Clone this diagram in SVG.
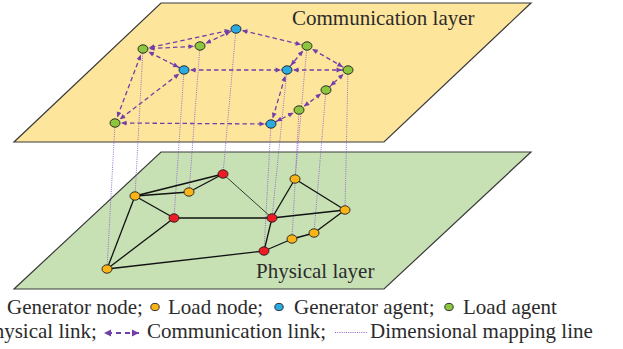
<svg xmlns="http://www.w3.org/2000/svg" width="623" height="349" viewBox="0 0 623 349">
<style>
.plane{stroke:#3a3a3a;stroke-width:1.2}
.lbl{font-size:21px;fill:#2b2b2b}
.node{stroke:#1e1e1e;stroke-width:0.9}
.blue{fill:#29ABE2}.green{fill:#8CC63F}.red{fill:#ED1C24}.orange{fill:#FBB417}
.comm{stroke:#7040A8;stroke-width:1.3;stroke-dasharray:4.5 3;fill:none;marker-start:url(#ah);marker-end:url(#ah)}
.phys{stroke:#111;stroke-width:1.3;fill:none}
.map{stroke:#9060C8;stroke-width:0.9;stroke-dasharray:1 1.2;fill:none}
</style>
<defs>
<marker id="ah" markerUnits="userSpaceOnUse" markerWidth="12" markerHeight="6" refX="16" refY="3" orient="auto-start-reverse" overflow="visible">
<path d="M10,3 L4.5,0.6 L4.5,5.4 Z" fill="#7040A8"/>
</marker>
<marker id="ahl" markerUnits="userSpaceOnUse" markerWidth="8" markerHeight="8" refX="7" refY="3.5" orient="auto-start-reverse" overflow="visible">
<path d="M7,3.5 L0,0 L0,7 Z" fill="#7040A8"/>
</marker>
</defs>

<g id="comm-plane">
<path class="plane" d="M161,3 L531,3 L384,142 L14,142 Z" fill="#FEE59C"/>
<text class="lbl" font-family="Liberation Serif, Times New Roman, serif" x="292" y="25">Communication layer</text>
</g>
<g id="phys-plane">
<path class="plane" d="M161,152 L531,152 L384,289 L14,289 Z" fill="#C7E1B5"/>
<text class="lbl" font-family="Liberation Serif, Times New Roman, serif" x="256" y="278">Physical layer</text>
</g>

<g id="connectors">
<g id="mapping">
<line class="map" x1="115" y1="123" x2="107" y2="269"/>
<line class="map" x1="143" y1="49" x2="135" y2="196"/>
<line class="map" x1="184" y1="70" x2="174" y2="218"/>
<line class="map" x1="200" y1="46" x2="189" y2="192"/>
<line class="map" x1="236" y1="29" x2="223" y2="174"/>
<line class="map" x1="271" y1="124" x2="264" y2="251"/>
<line class="map" x1="287" y1="70" x2="272" y2="218"/>
<line class="map" x1="307" y1="46" x2="295" y2="179"/>
<line class="map" x1="299" y1="110" x2="292" y2="239"/>
<line class="map" x1="326" y1="90" x2="314" y2="233"/>
<line class="map" x1="348" y1="70" x2="345" y2="210"/>
</g>
<g id="physical-links">
<line class="phys" x1="135" y1="196" x2="223" y2="174"/>
<line class="phys" x1="135" y1="196" x2="189" y2="192"/>
<line class="phys" x1="189" y1="192" x2="223" y2="174"/>
<line class="phys" x1="223" y1="174" x2="272" y2="218" style="stroke-width:0.8"/>
<line class="phys" x1="135" y1="196" x2="174" y2="218"/>
<line class="phys" x1="135" y1="196" x2="107" y2="269"/>
<line class="phys" x1="174" y1="218" x2="272" y2="218"/>
<line class="phys" x1="174" y1="218" x2="107" y2="269"/>
<line class="phys" x1="107" y1="269" x2="264" y2="251"/>
<line class="phys" x1="272" y1="218" x2="295" y2="179"/>
<line class="phys" x1="295" y1="179" x2="345" y2="210"/>
<line class="phys" x1="272" y1="218" x2="345" y2="210"/>
<line class="phys" x1="272" y1="218" x2="264" y2="251"/>
<line class="phys" x1="264" y1="251" x2="292" y2="239"/>
<line class="phys" x1="292" y1="239" x2="314" y2="233"/>
<line class="phys" x1="314" y1="233" x2="345" y2="210"/>
</g>
<g id="communication-links">
<line class="comm" x1="236" y1="29" x2="143" y2="49"/>
<line class="comm" x1="143" y1="49" x2="200" y2="46"/>
<line class="comm" x1="200" y1="46" x2="236" y2="29"/>
<line class="comm" x1="236" y1="29" x2="307" y2="46"/>
<line class="comm" x1="143" y1="49" x2="184" y2="70"/>
<line class="comm" x1="143" y1="49" x2="115" y2="123"/>
<line class="comm" x1="184" y1="70" x2="115" y2="123"/>
<line class="comm" x1="184" y1="70" x2="287" y2="70"/>
<line class="comm" x1="287" y1="70" x2="348" y2="70"/>
<line class="comm" x1="307" y1="46" x2="287" y2="70"/>
<line class="comm" x1="307" y1="46" x2="348" y2="70"/>
<line class="comm" x1="348" y1="70" x2="326" y2="90"/>
<line class="comm" x1="326" y1="90" x2="299" y2="110"/>
<line class="comm" x1="299" y1="110" x2="271" y2="124"/>
<line class="comm" x1="287" y1="70" x2="271" y2="124"/>
<line class="comm" x1="115" y1="123" x2="271" y2="124"/>
</g>
</g>

<g id="agent-T1"><ellipse class="node blue" cx="236" cy="29" rx="5" ry="4.2"/></g>
<g id="agent-T2"><ellipse class="node green" cx="143" cy="49" rx="5" ry="4.2"/></g>
<g id="agent-T3"><ellipse class="node green" cx="200" cy="46" rx="5" ry="4.2"/></g>
<g id="agent-T4"><ellipse class="node green" cx="307" cy="46" rx="5" ry="4.2"/></g>
<g id="agent-T5"><ellipse class="node blue" cx="184" cy="70" rx="5" ry="4.2"/></g>
<g id="agent-T6"><ellipse class="node blue" cx="287" cy="70" rx="5" ry="4.2"/></g>
<g id="agent-T7"><ellipse class="node green" cx="348" cy="70" rx="5" ry="4.2"/></g>
<g id="agent-T8"><ellipse class="node green" cx="326" cy="90" rx="5" ry="4.2"/></g>
<g id="agent-T9"><ellipse class="node green" cx="299" cy="110" rx="5" ry="4.2"/></g>
<g id="agent-T10"><ellipse class="node green" cx="115" cy="123" rx="5" ry="4.2"/></g>
<g id="agent-T11"><ellipse class="node blue" cx="271" cy="124" rx="5" ry="4.2"/></g>

<g id="bus-P1"><ellipse class="node red" cx="223" cy="174" rx="5" ry="4.2"/></g>
<g id="bus-P2"><ellipse class="node orange" cx="135" cy="196" rx="5" ry="4.2"/></g>
<g id="bus-P3"><ellipse class="node orange" cx="189" cy="192" rx="5" ry="4.2"/></g>
<g id="bus-P4"><ellipse class="node orange" cx="295" cy="179" rx="5" ry="4.2"/></g>
<g id="bus-P5"><ellipse class="node red" cx="174" cy="218" rx="5" ry="4.2"/></g>
<g id="bus-P6"><ellipse class="node red" cx="272" cy="218" rx="5" ry="4.2"/></g>
<g id="bus-P7"><ellipse class="node orange" cx="345" cy="210" rx="5" ry="4.2"/></g>
<g id="bus-P8"><ellipse class="node orange" cx="314" cy="233" rx="5" ry="4.2"/></g>
<g id="bus-P9"><ellipse class="node orange" cx="292" cy="239" rx="5" ry="4.2"/></g>
<g id="bus-P10"><ellipse class="node red" cx="264" cy="251" rx="5" ry="4.2"/></g>
<g id="bus-P11"><ellipse class="node orange" cx="107" cy="269" rx="5" ry="4.2"/></g>

<g id="legend" font-family="Liberation Serif, Times New Roman, serif">
<text class="lbl" x="7" y="314">Generator node;</text>
<ellipse class="node orange" cx="155" cy="307" rx="4.2" ry="3.6"/>
<text class="lbl" x="168" y="314">Load node;</text>
<ellipse class="node blue" cx="279" cy="307" rx="4.2" ry="3.6"/>
<text class="lbl" x="294" y="314">Generator agent;</text>
<ellipse class="node green" cx="449" cy="307" rx="4.2" ry="3.6"/>
<text class="lbl" x="463" y="314">Load agent</text>
<text class="lbl" x="-18" y="338">Physical link;</text>
<line x1="104" y1="333" x2="139" y2="333" stroke="#7040A8" stroke-width="2" stroke-dasharray="5 4" stroke-dashoffset="-3" marker-start="url(#ahl)" marker-end="url(#ahl)"/>
<text class="lbl" x="147" y="338">Communication link;</text>
<line x1="335" y1="332.5" x2="367" y2="332.5" stroke="#9060C8" stroke-width="1" stroke-dasharray="1 1.2"/>
<text class="lbl" x="370" y="338">Dimensional mapping line</text>
</g>
</svg>
